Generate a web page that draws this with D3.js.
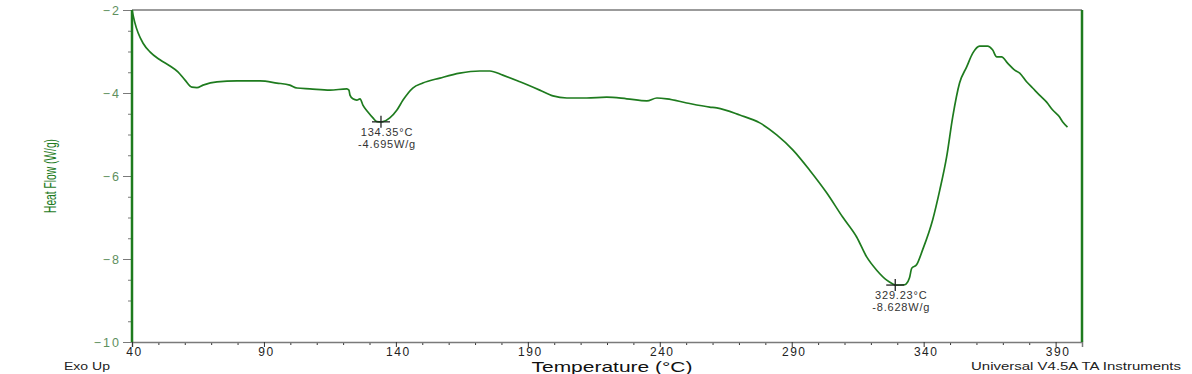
<!DOCTYPE html>
<html>
<head>
<meta charset="utf-8">
<script src="https://cdn.jsdelivr.net/npm/d3@7"></script>
<style>
  html, body { margin: 0; padding: 0; background: #fff; }
  svg { display: block; }
  text { font-family: "Liberation Sans", Arial, sans-serif; }
</style>
</head>
<body>
<svg id="chart" width="1192" height="374"></svg>
<script>
// ---- data ----
const temperature = [40, 41.1, 42.3, 44.2, 46.8, 50.6, 54.4, 57.4, 60.1, 62.7, 64.6, 66.9, 72.2, 79.8, 88.5, 94.9, 99.8, 102.5, 107.4, 115.0,
  121.4, 122.2, 122.6, 123.7, 125.2, 126.4, 127.5, 129.4, 131.3, 132.8, 134.35, 135.1, 137.7, 140.4, 142.7, 146.4, 150.2, 156.7, 164.2, 171.8,
  175.6, 180.5, 187.0, 194.5, 199.5, 204.8, 212.3, 219.9, 227.5, 235.1, 238.9, 242.7, 250.2, 258.9, 261.6, 270.3, 277.9, 284.3, 290.4, 296.8,
  303.3, 309.3, 314.6, 318.4, 322.2, 326.0, 328.3, 329.23, 332.7, 333.4, 334.6, 335.5, 337.3, 339.6, 343.4, 346.1, 348.7, 351.0, 353.6,
  356.3, 358.6, 361.2, 364.2, 366.1, 367.7, 369.5, 371.8, 374.5, 376.4, 379.0, 381.3, 383.9, 386.6, 388.9, 391.5, 392.7, 394.5];
const heatFlow = [-2.00, -2.31, -2.55, -2.80, -3.01, -3.20, -3.35, -3.49, -3.69, -3.86, -3.87, -3.81, -3.73, -3.71, -3.71, -3.76, -3.81, -3.88, -3.90, -3.93,
  -3.90, -3.93, -4.05, -4.14, -4.17, -4.14, -4.29, -4.46, -4.60, -4.69, -4.695, -4.69, -4.60, -4.41, -4.17, -3.88, -3.76, -3.64, -3.52, -3.47,
  -3.47, -3.57, -3.73, -3.93, -4.07, -4.12, -4.12, -4.10, -4.14, -4.19, -4.12, -4.14, -4.24, -4.34, -4.36, -4.53, -4.72, -5.01, -5.37, -5.86,
  -6.41, -6.99, -7.47, -7.95, -8.27, -8.51, -8.60, -8.628, -8.62, -8.60, -8.46, -8.22, -8.14, -7.78, -7.06, -6.34, -5.54, -4.58, -3.76,
  -3.37, -3.04, -2.87, -2.87, -2.96, -3.13, -3.13, -3.28, -3.45, -3.52, -3.73, -3.88, -4.05, -4.22, -4.41, -4.58, -4.70, -4.82];

const xTickLabels = [40, 90, 140, 190, 240, 290, 340, 390];
const yTickLabels = [-2, -4, -6, -8, -10];
const peakTemps = [134.35, 329.23];
const peakFlows = [-4.695, -8.628];
const peakTempLabels = ["134.35°C", "329.23°C"];
const peakFlowLabels = ["-4.695W/g", "-8.628W/g"];

// ---- layout ----
const W = 1192, H = 374;
const m = { left: 132, top: 10, right: 110, bottom: 32 };
const green = "#1e7b1e";
const grey = "#7a7a7a";

const svg = d3.select("#chart");
const x = d3.scaleLinear().domain([40, 400]).range([m.left, W - m.right]);
const y = d3.scaleLinear().domain([-10, -2]).range([H - m.bottom, m.top]);

// frame top
svg.append("line").attr("x1", x(40)).attr("x2", x(400)).attr("y1", y(-2)).attr("y2", y(-2))
  .attr("stroke", grey).attr("stroke-width", 1.5);

// minor y ticks
const yMinor = d3.range(-10, -1.99, 0.5).filter(v => !yTickLabels.includes(v));
svg.append("g").attr("transform", `translate(${m.left},0)`)
  .call(d3.axisLeft(y).tickValues(yMinor).tickSize(4).tickFormat(""))
  .call(g => g.select(".domain").remove())
  .call(g => g.selectAll("line").attr("stroke", grey));

// major y ticks
svg.append("g").attr("transform", `translate(${m.left},0)`)
  .call(d3.axisLeft(y).tickValues(yTickLabels).tickSize(9).tickPadding(2).tickFormat(d3.format("d")))
  .call(g => g.select(".domain").remove())
  .call(g => g.selectAll("line").attr("stroke", grey))
  .call(g => g.selectAll("text").attr("fill", "#5e8f5e").attr("font-size", 12.5)
    .attr("letter-spacing", 2).attr("font-family", "Liberation Sans, Arial, sans-serif"));

// minor x ticks
const xMinor = d3.range(50, 400, 10).filter(v => !xTickLabels.includes(v));
svg.append("g").attr("transform", `translate(0,${H - m.bottom})`)
  .call(d3.axisBottom(x).tickValues(xMinor).tickSize(3).tickFormat(""))
  .call(g => g.select(".domain").remove())
  .call(g => g.selectAll("line").attr("stroke", "#333"));

// major x ticks
svg.append("g").attr("transform", `translate(0,${H - m.bottom})`)
  .call(d3.axisBottom(x).tickValues(xTickLabels).tickSize(5).tickPadding(0).tickFormat(d3.format("d")))
  .call(g => g.select(".domain").attr("stroke", grey).attr("stroke-width", 1.5))
  .call(g => g.selectAll("line").attr("stroke", "#333"))
  .call(g => g.selectAll("text").attr("fill", "#222").attr("font-size", 12).attr("letter-spacing", 1.5)
    .attr("dx", 2).attr("font-family", "Liberation Sans, Arial, sans-serif"));

svg.append("line").attr("x1", x(40)).attr("x2", x(40)).attr("y1", y(-2)).attr("y2", y(-10))
  .attr("stroke", green).attr("stroke-width", 2.5);
svg.append("line").attr("x1", x(400)).attr("x2", x(400)).attr("y1", y(-2)).attr("y2", y(-10))
  .attr("stroke", green).attr("stroke-width", 2.5);

// curve
const pts = temperature.map((t, i) => [t, heatFlow[i]]);
svg.append("path").datum(pts)
  .attr("fill", "none").attr("stroke", green).attr("stroke-width", 1.7)
  .attr("stroke-linejoin", "round")
  .attr("d", d3.line().x(d => x(d[0])).y(d => y(d[1])).curve(d3.curveMonotoneX));

// peak annotations
peakTemps.forEach((t, i) => {
  const cx = x(t), cy = y(peakFlows[i]);
  svg.append("line").attr("x1", cx - 9).attr("x2", cx + 9).attr("y1", cy).attr("y2", cy)
    .attr("stroke", "#222").attr("stroke-width", 1.3);
  svg.append("line").attr("x1", cx).attr("x2", cx).attr("y1", cy - 6).attr("y2", cy + 6)
    .attr("stroke", "#222").attr("stroke-width", 1.3);
  svg.append("text").attr("x", cx + 6).attr("y", cy + 14).attr("text-anchor", "middle")
    .attr("font-size", 11).attr("letter-spacing", 0.8).attr("fill", "#333").text(peakTempLabels[i]);
  svg.append("text").attr("x", cx + 6).attr("y", cy + 26).attr("text-anchor", "middle")
    .attr("font-size", 11).attr("letter-spacing", 0.8).attr("fill", "#333").text(peakFlowLabels[i]);
});

// axis titles and footers
svg.append("text")
  .attr("transform", `translate(56,${(m.top + H - m.bottom) / 2}) rotate(-90)`)
  .attr("text-anchor", "middle")
  .attr("font-family", "Liberation Sans Narrow, Arial Narrow, Liberation Sans, sans-serif")
  .attr("font-size", 16).attr("fill", green)
  .attr("textLength", 74).attr("lengthAdjust", "spacingAndGlyphs")
  .text("Heat Flow (W/g)");

svg.append("text").attr("x", 612).attr("y", 372).attr("text-anchor", "middle")
  .attr("font-size", 15).attr("fill", "#111")
  .attr("textLength", 161).attr("lengthAdjust", "spacingAndGlyphs")
  .text("Temperature (°C)");

svg.append("text").attr("x", 64).attr("y", 370)
  .attr("font-size", 10.5).attr("fill", "#222")
  .attr("textLength", 46).attr("lengthAdjust", "spacingAndGlyphs")
  .text("Exo Up");

svg.append("text").attr("x", 971).attr("y", 370)
  .attr("font-size", 10.5).attr("fill", "#222")
  .attr("textLength", 210).attr("lengthAdjust", "spacingAndGlyphs")
  .text("Universal V4.5A TA Instruments");
</script>
</body>
</html>
